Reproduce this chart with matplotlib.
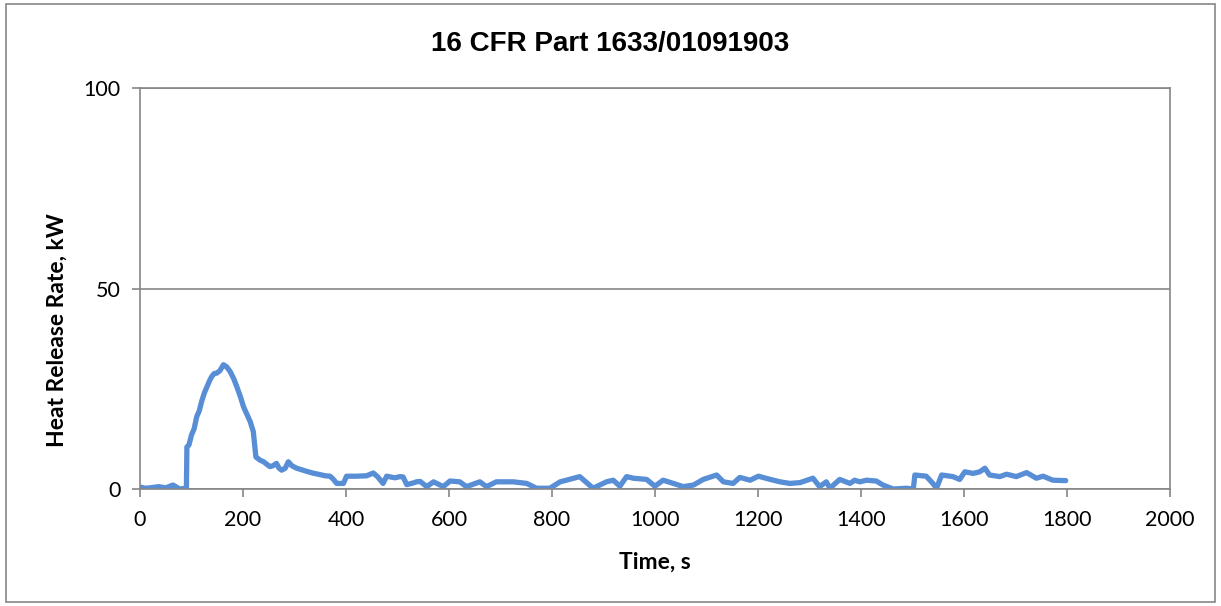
import numpy as np
import matplotlib.pyplot as plt
from matplotlib.patches import Rectangle

# Heat release rate trace
time_s = [0, 10, 20, 36, 50, 64, 77, 88, 90, 91, 95, 100, 105, 110, 115, 120, 125, 130,
          135, 139, 144, 149, 155, 162, 168, 175, 182, 188, 195, 201, 208, 214, 220, 225,
          233, 240, 252, 258, 265, 270, 275, 282, 288, 295, 304, 314, 324, 335, 349, 360,
          369, 375, 382, 395, 401, 420, 440, 453, 462, 472, 479, 495, 505, 511, 518, 530,
          537, 544, 557, 570, 589, 602, 621, 634, 660, 673, 692, 725, 751, 770, 796, 816,
          828, 854, 880, 906, 919, 932, 945, 958, 984, 1000, 1016, 1036, 1055, 1075, 1094,
          1120, 1133, 1152, 1165, 1185, 1201, 1224, 1243, 1262, 1282, 1307, 1320, 1333,
          1340, 1359, 1379, 1388, 1398, 1411, 1430, 1443, 1463, 1489, 1502, 1505, 1527,
          1540, 1547, 1557, 1579, 1592, 1602, 1618, 1631, 1641, 1650, 1670, 1683, 1702,
          1722, 1741, 1754, 1773, 1798]
hrr_kw = [0.5, 0.2, 0.3, 0.6, 0.3, 1.0, 0.0, 0.2, 0.0, 10.5, 11.0, 13.5, 15.0, 18.0, 19.5,
          22.0, 24.0, 25.5, 27.0, 28.0, 28.8, 28.9, 29.5, 31.0, 30.5, 29.3, 27.5, 25.5, 23.0,
          20.5, 18.5, 16.8, 14.3, 8.0, 7.2, 6.8, 5.6, 5.8, 6.4, 5.2, 4.7, 5.2, 6.8, 5.8, 5.2,
          4.8, 4.4, 4.0, 3.6, 3.3, 3.2, 2.5, 1.4, 1.4, 3.2, 3.2, 3.3, 4.0, 3.0, 1.4, 3.2, 2.8,
          3.1, 3.0, 1.1, 1.5, 1.8, 1.9, 0.6, 1.8, 0.6, 2.0, 1.8, 0.6, 1.8, 0.6, 1.8, 1.8, 1.4,
          0.2, 0.2, 1.8, 2.2, 3.1, 0.2, 1.8, 2.2, 0.7, 3.1, 2.7, 2.4, 0.7, 2.2, 1.4, 0.6, 1.0,
          2.4, 3.5, 1.8, 1.4, 2.9, 2.2, 3.2, 2.4, 1.8, 1.4, 1.6, 2.7, 0.6, 1.8, 0.2, 2.4, 1.4,
          2.2, 1.8, 2.2, 2.0, 1.0, 0.0, 0.2, 0.0, 3.5, 3.2, 1.4, 0.2, 3.5, 3.1, 2.4, 4.3, 3.9,
          4.3, 5.2, 3.5, 3.1, 3.7, 3.1, 4.1, 2.7, 3.2, 2.2, 2.1]

x_ticks = [0, 200, 400, 600, 800, 1000, 1200, 1400, 1600, 1800, 2000]
y_ticks = [0, 50, 100]

grey = '#868686'

fig = plt.figure(figsize=(12.21, 6.06), dpi=100)
ax = fig.add_axes([0.1147, 0.193, 0.958 - 0.1147, 0.8548 - 0.193])

ax.plot(time_s, hrr_kw, color='#588ED6', linewidth=3.8, solid_joinstyle='round',
        solid_capstyle='round')

ax.set_xlim(0, 2000)
ax.set_ylim(0, 100)
ax.set_xticks(x_ticks)
ax.set_yticks(y_ticks)
ax.yaxis.grid(True, color=grey, linewidth=1.2)
ax.set_axisbelow(True)
for s in ax.spines.values():
    s.set_color(grey)
    s.set_linewidth(1.2)
ax.tick_params(axis='both', direction='out', length=6, width=1.2, color=grey,
               labelsize=15.5)
ax.tick_params(axis='x', pad=9)
ax.tick_params(axis='y', pad=8)
for lab in ax.get_xticklabels() + ax.get_yticklabels():
    lab.set_fontfamily('Lato')

ax.set_xlabel('Time, s', fontsize=16.5, fontweight='bold', family='Lato', va='center')
ax.set_ylabel('Heat Release Rate, kW', fontsize=16.5, fontweight='bold', family='Lato',
              va='center')
ax.xaxis.set_label_coords(0.5, -0.182)
ax.yaxis.set_label_coords(-0.0806, 0.397)

fig.text(0.5, 0.928, '16 CFR Part 1633/01091903', ha='center', va='center',
         fontsize=20, fontweight='bold', family='Liberation Sans')

fig.patches.append(Rectangle((0.005, 0.007), 0.99, 0.986, transform=fig.transFigure,
                             fill=False, edgecolor=grey, linewidth=1.2))

fig.savefig('out.png', dpi=100)
